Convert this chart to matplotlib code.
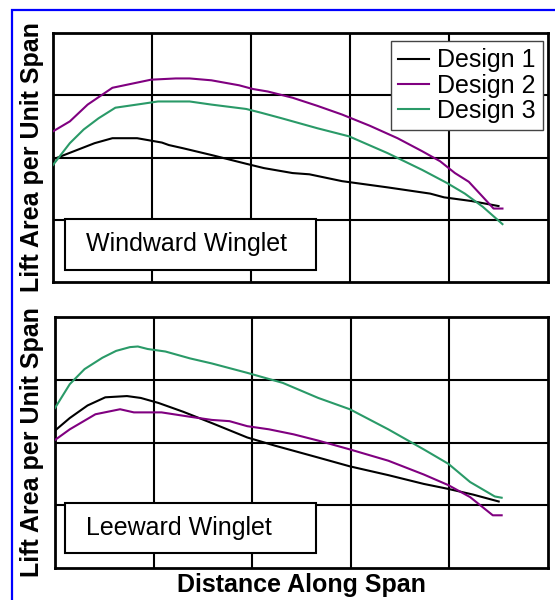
import matplotlib
matplotlib.use("Agg")
import matplotlib.pyplot as plt
from matplotlib.patches import Rectangle

plt.rcParams['font.family'] = ['Liberation Sans', 'DejaVu Sans']

# Span position (grid units) and lift per unit span, windward winglet
ww_d1_x = [0, 0.42, 0.60, 0.85, 1.10, 1.17, 1.31, 1.60, 1.95, 2.13, 2.42, 2.59, 2.92, 3.38, 3.81, 3.95, 4.23, 4.50]
ww_d1_y = [1.97, 2.23, 2.31, 2.31, 2.24, 2.20, 2.15, 2.04, 1.90, 1.83, 1.75, 1.73, 1.62, 1.52, 1.42, 1.36, 1.30, 1.22]
ww_d2_x = [0, 0.17, 0.35, 0.60, 0.99, 1.24, 1.38, 1.60, 1.88, 2.02, 2.17, 2.42, 2.67, 2.92, 3.20, 3.48, 3.73, 3.91, 4.06, 4.20, 4.34, 4.45, 4.54]
ww_d2_y = [2.42, 2.58, 2.85, 3.12, 3.25, 3.27, 3.27, 3.24, 3.16, 3.10, 3.06, 2.96, 2.83, 2.69, 2.51, 2.31, 2.10, 1.94, 1.75, 1.61, 1.37, 1.18, 1.18]
ww_d3_x = [0, 0.17, 0.31, 0.46, 0.63, 0.89, 1.06, 1.38, 1.60, 1.95, 2.10, 2.31, 2.67, 2.99, 3.38, 3.73, 3.98, 4.16, 4.34, 4.54]
ww_d3_y = [1.88, 2.23, 2.45, 2.63, 2.80, 2.86, 2.90, 2.90, 2.85, 2.78, 2.72, 2.63, 2.47, 2.34, 2.07, 1.80, 1.59, 1.42, 1.21, 0.93]

# Leeward winglet
lw_d1_x = [0, 0.15, 0.33, 0.51, 0.73, 0.87, 1.05, 1.30, 1.59, 1.95, 2.23, 2.67, 2.99, 3.38, 3.74, 3.99, 4.24, 4.50]
lw_d1_y = [2.19, 2.39, 2.59, 2.72, 2.74, 2.71, 2.63, 2.49, 2.31, 2.08, 1.95, 1.76, 1.62, 1.48, 1.34, 1.26, 1.17, 1.06]
lw_d2_x = [0, 0.15, 0.41, 0.66, 0.80, 1.08, 1.37, 1.59, 1.77, 1.95, 2.17, 2.42, 2.67, 2.99, 3.38, 3.74, 3.99, 4.21, 4.44, 4.53]
lw_d2_y = [2.04, 2.21, 2.45, 2.53, 2.48, 2.48, 2.41, 2.36, 2.34, 2.26, 2.21, 2.13, 2.03, 1.89, 1.71, 1.49, 1.32, 1.13, 0.84, 0.84]
lw_d3_x = [0, 0.15, 0.30, 0.48, 0.62, 0.76, 0.84, 0.94, 1.12, 1.37, 1.59, 1.95, 2.31, 2.67, 2.99, 3.38, 3.74, 3.99, 4.21, 4.46, 4.53]
lw_d3_y = [2.55, 2.93, 3.17, 3.35, 3.46, 3.52, 3.53, 3.49, 3.45, 3.34, 3.26, 3.11, 2.95, 2.71, 2.53, 2.21, 1.89, 1.66, 1.37, 1.14, 1.12]

labels = ["Design 1", "Design 2", "Design 3"]
colors = ["black", "#800080", "#2a9a68"]
panel_titles = ["Windward Winglet", "Leeward Winglet"]
ylabel = "Lift Area per Unit Span"
xlabel = "Distance Along Span"

W, H = 555, 600
fig = plt.figure(figsize=(W / 100, H / 100), dpi=100)


def rect(l, t, r, b):
    return [l / W, 1 - b / H, (r - l) / W, (b - t) / H]


ax_top = fig.add_axes(rect(53, 33, 548, 282))
ax_bot = fig.add_axes(rect(55, 317, 548, 568))

panels = [
    (ax_top, [(ww_d1_x, ww_d1_y), (ww_d2_x, ww_d2_y), (ww_d3_x, ww_d3_y)], (0.125, 0.20, 2.655, 1.01), 0.33),
    (ax_bot, [(lw_d1_x, lw_d1_y), (lw_d2_x, lw_d2_y), (lw_d3_x, lw_d3_y)], (0.10, 0.24, 2.65, 1.04), 0.31),
]

for i, (ax, series, box, tx) in enumerate(panels):
    ax.set_xlim(0, 5)
    ax.set_ylim(0, 4)
    for gx in [1, 2, 3, 4]:
        ax.axvline(gx, color="black", lw=1.5, zorder=1)
    for gy in [1, 2, 3]:
        ax.axhline(gy, color="black", lw=1.5, zorder=1)
    for (x, y), lab, c in zip(series, labels, colors):
        ax.plot(x, y, color=c, lw=1.5, label=lab, zorder=3)
    x0, y0, x1, y1 = box
    ax.add_patch(Rectangle((x0, y0), x1 - x0, y1 - y0, facecolor="white",
                           edgecolor="black", lw=1.5, zorder=4))
    ax.text(tx, (y0 + y1) / 2, panel_titles[i], fontsize=18, ha="left",
            va="center", zorder=5)
    ax.set_xticks([])
    ax.set_yticks([])
    for sp in ax.spines.values():
        sp.set_linewidth(2)
        sp.set_color("black")

leg = ax_top.legend(loc="upper right", bbox_to_anchor=(0.99, 0.968), borderaxespad=0,
                    fontsize=18, frameon=True, fancybox=False, framealpha=1,
                    borderpad=0.3, handletextpad=0.3, handlelength=1.25,
                    labelspacing=0.05)
leg.get_frame().set_edgecolor("#444444")
leg.get_frame().set_linewidth(1.0)
leg.set_zorder(6)

for ax in [ax_top, ax_bot]:
    pos = ax.get_position()
    fig.text(32 / W, (pos.y0 + pos.y1) / 2, ylabel, rotation=90, ha="center",
             va="center", fontsize=18, fontweight="bold")

fig.text(301 / W, 1 - 592 / H, xlabel, ha="center", va="baseline",
         fontsize=18, fontweight="bold")

# blue outer frame, open to the right and bottom
fig.patches.append(Rectangle((12 / W, -0.1), 1.5, (H - 10) / H + 0.1,
                             transform=fig.transFigure, fill=False,
                             edgecolor="blue", lw=1.6))

fig.savefig("out.png", dpi=100)
